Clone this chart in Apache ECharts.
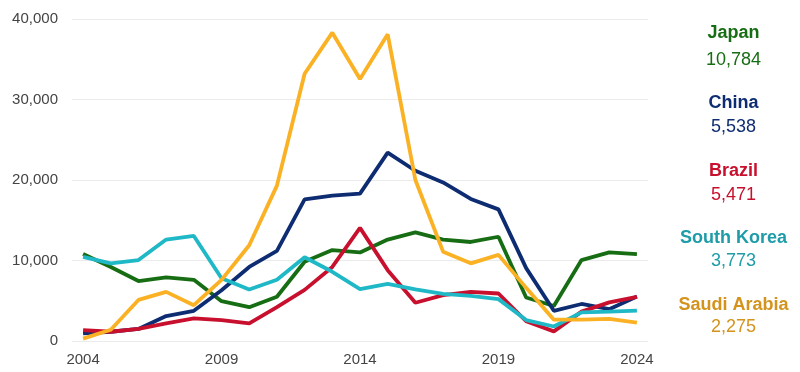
<!DOCTYPE html>
<html><head><meta charset="utf-8">
<script src="https://cdn.jsdelivr.net/npm/echarts@6/dist/echarts.min.js"></script>
<style>html,body{margin:0;padding:0;background:#fff}#c{width:800px;height:372px}</style>
</head><body><div id="c"></div>
<script>
const years = [2004,2005,2006,2007,2008,2009,2010,2011,2012,2013,2014,2015,2016,2017,2018,2019,2020,2021,2022,2023,2024];
const xTickLabels = [2004,2009,2014,2019,2024];
const yTicks = [0,10000,20000,30000,40000];
const seriesNames = ['Japan','China','Brazil','South Korea','Saudi Arabia'];
const japan = [10800,9200,7450,7900,7600,4950,4200,5500,9850,11300,11000,12600,13500,12600,12300,12950,5400,4350,10050,11000,10784];
const china = [950,1150,1500,3100,3750,6300,9200,11200,17600,18050,18300,23400,21150,19700,17650,16350,9050,3750,4600,3950,5538];
const brazil = [1350,1150,1500,2200,2800,2600,2200,4200,6350,9200,14050,8800,4750,5700,6100,5900,2450,1200,3650,4800,5471];
const southKorea = [10450,9650,10050,12600,13050,7800,6400,7600,10400,8600,6450,7100,6400,5850,5600,5200,2600,1800,3550,3650,3773];
const saudiArabia = [300,1400,5100,6100,4450,7600,11900,19300,33200,38300,32550,38100,20000,11100,9650,10700,6600,2650,2650,2750,2275];
const lineColors = ['#176d13','#0e2c72','#c8102e','#1fb8c6','#fbb124'];
const textColors = ['#176d13','#0e2c72','#c8102e','#1e9ca8','#d4931c'];
const allData = [japan,china,brazil,southKorea,saudiArabia];

const chart = echarts.init(document.getElementById('c'), null, {renderer:'canvas'});
const fmt = v => v.toLocaleString('en-US');
const labelCenters = [[33.5,60],[103.5,127.5],[171.5,195],[238.5,261.5],[305,327.5]];
const FONT = 'Arial, "Liberation Sans", sans-serif';
const graphics = [];
seriesNames.forEach((n,i)=>{
  graphics.push({type:'text', x:733.5, y:labelCenters[i][0], style:{text:n, fill:textColors[i], font:'bold 18px '+FONT, textAlign:'center', textVerticalAlign:'middle'}});
  graphics.push({type:'text', x:733.5, y:labelCenters[i][1], style:{text:fmt(allData[i][allData[i].length-1]), fill:textColors[i], font:'18px '+FONT, textAlign:'center', textVerticalAlign:'middle'}});
});
chart.setOption({
  animation:false,
  backgroundColor:'#fff',
  textStyle:{fontFamily:FONT},
  grid:{left:72, right:152, top:19, bottom:31, containLabel:false},
  xAxis:{type:'value', min:2003.6, max:2024.4,
    axisLine:{show:false}, axisTick:{show:false}, splitLine:{show:false},
    axisLabel:{customValues:xTickLabels, formatter:v=>String(v), color:'#444', fontSize:15, margin:11}},
  yAxis:{type:'value', min:0, max:40000, interval:10000,
    axisLine:{show:false}, axisTick:{show:false},
    splitLine:{lineStyle:{color:'#ebebeb', width:1}},
    axisLabel:{formatter:v=>fmt(v), color:'#444', fontSize:15, margin:14}},
  graphic:graphics,
  series: seriesNames.map((n,i)=>({
    name:n, type:'line', symbol:'none', smooth:false,
    data: years.map((y,k)=>[y, allData[i][k]]),
    lineStyle:{color:lineColors[i], width:3.8},
    z: 2 + i
  }))
});
</script></body></html>
